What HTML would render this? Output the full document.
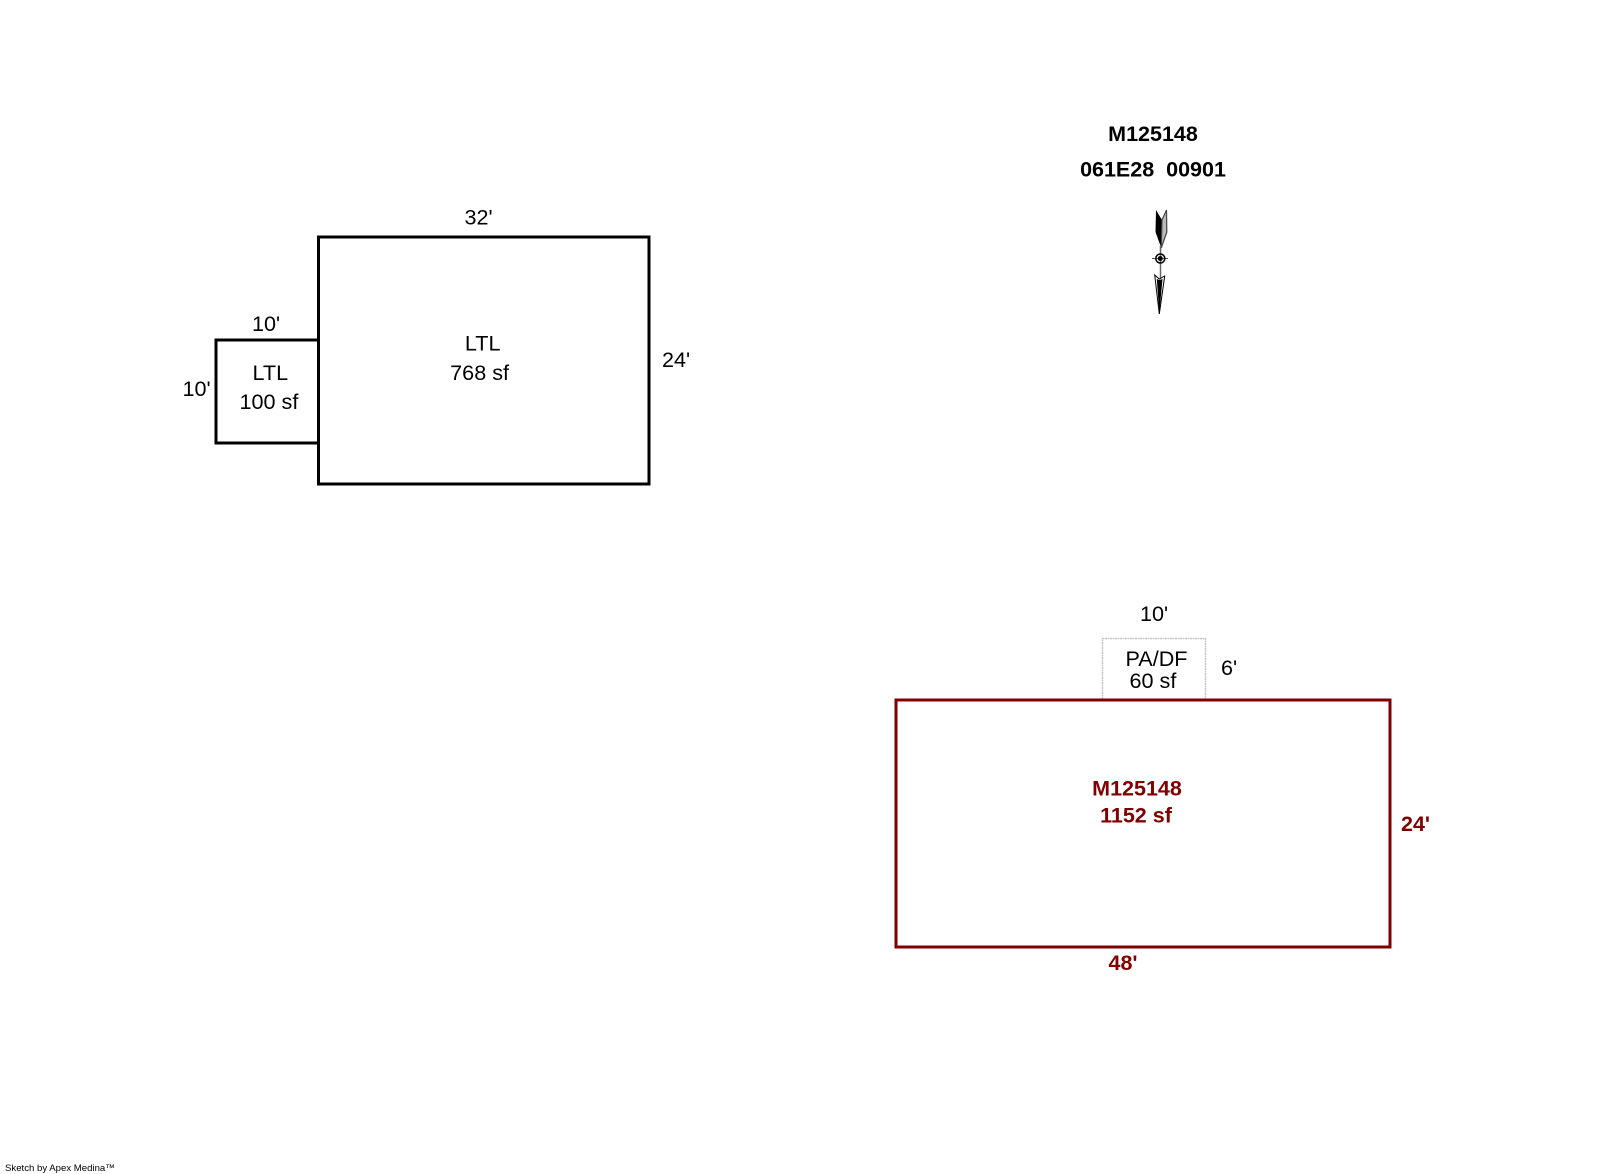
<!DOCTYPE html>
<html>
<head>
<meta charset="utf-8">
<style>
html,body{margin:0;padding:0;background:#fff;width:1600px;height:1174px;overflow:hidden}
svg{display:block}
text{font-family:"Liberation Sans",Arial,sans-serif;font-size:21.6px;fill:#000}
.b{font-weight:bold;font-size:21.5px}
.r{font-weight:bold;font-size:21.5px;fill:#800000}
.m{text-anchor:middle}
</style>
</head>
<body>
<svg width="1600" height="1174" viewBox="0 0 1600 1174" xmlns="http://www.w3.org/2000/svg">
<rect x="0" y="0" width="1600" height="1174" fill="#fff"/>
<!-- LTL rectangles -->
<rect x="318.5" y="237" width="330.500" height="247" fill="none" stroke="#000" stroke-width="3"/>
<rect x="216" y="340" width="102.500" height="103" fill="none" stroke="#000" stroke-width="3"/>
<text x="478.600" y="224.500" class="m">32'</text>
<text x="482.700" y="350.500" class="m">LTL</text>
<text x="479.600" y="379.800" class="m">768 sf</text>
<text x="662" y="367">24'</text>
<text x="252" y="331">10'</text>
<text x="182.500" y="396">10'</text>
<text x="252.500" y="380">LTL</text>
<text x="239.500" y="409">100 sf</text>
<!-- Header -->
<text x="1153" y="141" class="b m">M125148</text>
<text x="1153" y="176.500" class="b m" xml:space="preserve">061E28  00901</text>
<!-- North arrow -->
<g>
<path d="M1156 210 L1162 220 L1161.300 248 L1155.500 232 Z" fill="#000"/>
<path d="M1166.500 210 L1162 220 L1161.300 248 L1166.800 232 Z" fill="#bbb" stroke="#444" stroke-width="1.200"/>
<line x1="1160.500" y1="246" x2="1160.500" y2="280" stroke="#666" stroke-width="1.500"/>
<line x1="1152" y1="258.500" x2="1168" y2="258.500" stroke="#555" stroke-width="1"/>
<circle cx="1160.300" cy="258.500" r="4.500" fill="none" stroke="#000" stroke-width="1.500"/>
<circle cx="1160.300" cy="258.500" r="2.500" fill="#000"/>
<path d="M1154.700 275 L1159.300 314 L1164.700 276 L1159.300 279 Z" fill="#fff" stroke="#000" stroke-width="1"/>
<path d="M1156.800 279 L1159.300 314 L1162.500 279 L1159.300 280 Z" fill="#000"/>
</g>
<!-- PA/DF -->
<rect x="1102.500" y="638.500" width="103" height="61" fill="none" stroke="#c8c8c8" stroke-width="1.500" stroke-dasharray="2 0.500"/>
<text x="1140" y="621">10'</text>
<text x="1125.500" y="666">PA/DF</text>
<text x="1129.500" y="688">60 sf</text>
<text x="1221" y="675">6'</text>
<!-- Red rectangle -->
<rect x="896" y="700" width="494" height="247" fill="none" stroke="#800000" stroke-width="3"/>
<text x="1137" y="795.500" class="r m">M125148</text>
<text x="1136" y="822.500" class="r m">1152 sf</text>
<text x="1401" y="831" class="r">24'</text>
<text x="1123" y="970" class="r m">48'</text>
<!-- Footer -->
<text x="5" y="1171" style="font-size:9.600px">Sketch by Apex Medina™</text>
</svg>
</body>
</html>
